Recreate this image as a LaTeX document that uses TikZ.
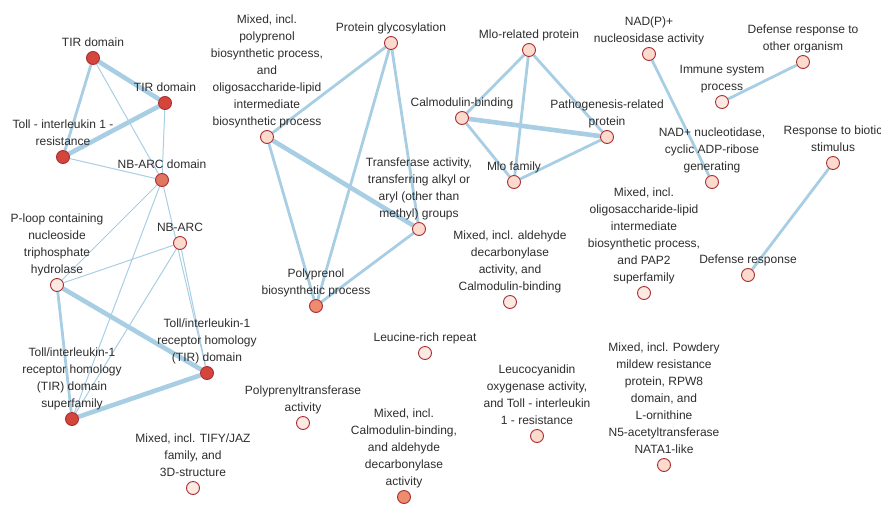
\documentclass[tikz,border=0pt]{standalone}
\usepackage{fontspec}
\setmainfont{Liberation Sans}
\usetikzlibrary{backgrounds}

\definecolor{edgeblue}{RGB}{168,206,228}
\definecolor{termdark}{RGB}{212,70,60}
\definecolor{termmid}{RGB}{224,118,96}
\definecolor{termorange}{RGB}{238,140,110}
\definecolor{termlight}{RGB}{252,218,205}
\definecolor{termpale}{RGB}{252,233,225}
\definecolor{termborder}{RGB}{170,45,50}
\definecolor{textgray}{RGB}{45,45,45}

\tikzset{
  term/.style={circle, minimum size=13pt, inner sep=0pt, line width=0.9pt, draw=termborder},
  dark/.style={term, fill=termdark},
  mid/.style={term, fill=termmid},
  orange/.style={term, fill=termorange},
  light/.style={term, fill=termlight},
  pale/.style={term, fill=termpale},
  lbl/.style={font=\fontsize{12}{17}\selectfont, text=textgray, align=center, inner sep=0pt, label distance=-0.5pt},
  edge/.style={draw=edgeblue},
  weak/.style={edge, line width=1pt},
  medium/.style={edge, line width=2.8pt},
  strong/.style={edge, line width=4.6pt}
}

\begin{document}
\begin{tikzpicture}[x=1pt, y=-1pt]
  \useasboundingbox (0,0) rectangle (881,504);

  % Left cluster: TIR / NB-ARC terms
  \node[dark, label={[lbl]above:{TIR domain\strut}}] (tirA) at (93,58) {};
  \node[dark, label={[lbl]above:{TIR domain\strut}}] (tirB) at (165,103) {};
  \node[dark, label={[lbl]above:{Toll - interleukin 1 -\\resistance\strut}}] (toll) at (63,157) {};
  \node[mid, label={[lbl]above:{NB-ARC domain\strut}}] (nbarcdom) at (162,180) {};
  \node[light, label={[lbl]above:{NB-ARC\strut}}] (nbarc) at (180,243) {};
  \node[pale, label={[lbl]above:{P-loop containing\\nucleoside\\triphosphate\\hydrolase\strut}}] (ploop) at (57,285) {};
  \node[dark, label={[lbl]above:{Toll/interleukin-1\\receptor homology\\(TIR) domain\strut}}] (tirdom) at (207,373) {};
  \node[dark, label={[lbl]above:{Toll/interleukin-1\\receptor homology\\(TIR) domain\\superfamily\strut}}] (tirsup) at (72,419) {};
  \node[pale, label={[lbl]above:{Mixed, incl. TIFY/JAZ\\family, and\\3D-structure\strut}}] (tify) at (193,488) {};

  % Middle cluster: polyprenol / glycosylation terms
  \node[light, label={[lbl]above:{Protein glycosylation\strut}}] (protgly) at (391,43) {};
  \node[light, label={[lbl]above:{Mixed, incl.\\polyprenol\\biosynthetic process,\\and\\oligosaccharide-lipid\\intermediate\\biosynthetic process\strut}}] (mixpoly) at (267,137) {};
  \node[light, label={[lbl]above:{Transferase activity,\\transferring alkyl or\\aryl (other than\\methyl) groups\strut}}] (transf) at (419,229) {};
  \node[orange, label={[lbl]above:{Polyprenol\\biosynthetic process\strut}}] (polyproc) at (316,306) {};

  % Mlo cluster
  \node[light, label={[lbl]above:{Mlo-related protein\strut}}] (mlorel) at (529,50) {};
  \node[light, label={[lbl]above:{Calmodulin-binding\strut}}] (calm) at (462,118) {};
  \node[light, label={[lbl]above:{Pathogenesis-related\\protein\strut}}] (patho) at (607,137) {};
  \node[light, label={[lbl]above:{Mlo family\strut}}] (mlofam) at (514,182) {};

  % Right: pairs
  \node[light, label={[lbl]above:{NAD(P)+\\nucleosidase activity\strut}}] (nadp) at (649,54) {};
  \node[light, label={[lbl]above:{Defense response to\\other organism\strut}}] (defother) at (803,62) {};
  \node[pale, label={[lbl]above:{Immune system\\process\strut}}] (immune) at (722,102) {};
  \node[light, label={[lbl]above:{NAD+ nucleotidase,\\cyclic ADP-ribose\\generating\strut}}] (nadplus) at (712,182) {};
  \node[light, label={[lbl]above:{Response to biotic\\stimulus\strut}}] (respbio) at (833,163) {};
  \node[light, label={[lbl]above:{Defense response\strut}}] (defresp) at (748,275) {};

  % Singletons
  \node[pale, label={[lbl]above:{Mixed, incl.\\oligosaccharide-lipid\\intermediate\\biosynthetic process,\\and PAP2\\superfamily\strut}}] (mixoligo) at (644,293) {};
  \node[pale, label={[lbl]above:{Mixed, incl. aldehyde\\decarbonylase\\activity, and\\Calmodulin-binding\strut}}] (mixald) at (510,302) {};
  \node[pale, label={[lbl]above:{Leucine-rich repeat\strut}}] (leucine) at (425,353) {};
  \node[pale, label={[lbl]above:{Polyprenyltransferase\\activity\strut}}] (polyprenyl) at (303,423) {};
  \node[orange, label={[lbl]above:{Mixed, incl.\\Calmodulin-binding,\\and aldehyde\\decarbonylase\\activity\strut}}] (mixcalm) at (404,497) {};
  \node[light, label={[lbl]above:{Leucocyanidin\\oxygenase activity,\\and Toll - interleukin\\1 - resistance\strut}}] (leuco) at (537,436) {};
  \node[light, label={[lbl]above:{Mixed, incl. Powdery\\mildew resistance\\protein, RPW8\\domain, and\\L-ornithine\\N5-acetyltransferase\\NATA1-like\strut}}] (mixpowd) at (664,465) {};

  \begin{scope}[on background layer]
    % left cluster edges
    \draw[strong] (tirA) -- (tirB);
    \draw[medium] (tirA) -- (toll);
    \draw[weak] (tirA) -- (nbarcdom);
    \draw[strong] (tirB) -- (toll);
    \draw[weak] (tirB) -- (nbarcdom);
    \draw[weak] (toll) -- (nbarcdom);
    \draw[weak] (nbarcdom) -- (ploop);
    \draw[weak] (nbarcdom) -- (tirsup);
    \draw[weak] (nbarcdom) -- (tirdom);
    \draw[weak] (nbarc) -- (ploop);
    \draw[weak] (nbarc) -- (tirsup);
    \draw[weak] (nbarc) -- (tirdom);
    \draw[strong] (ploop) -- (tirdom);
    \draw[medium] (ploop) -- (tirsup);
    \draw[strong] (tirdom) -- (tirsup);
    % middle cluster edges
    \draw[medium] (protgly) -- (mixpoly);
    \draw[medium] (protgly) -- (polyproc);
    \draw[medium] (protgly) -- (transf);
    \draw[strong] (mixpoly) -- (transf);
    \draw[medium] (mixpoly) -- (polyproc);
    \draw[medium] (transf) -- (polyproc);
    % Mlo cluster edges
    \draw[medium] (mlorel) -- (calm);
    \draw[medium] (mlorel) -- (patho);
    \draw[medium] (mlorel) -- (mlofam);
    \draw[strong] (calm) -- (patho);
    \draw[medium] (calm) -- (mlofam);
    \draw[medium] (mlofam) -- (patho);
    % pairs
    \draw[medium] (nadp) -- (nadplus);
    \draw[medium] (immune) -- (defother);
    \draw[medium] (respbio) -- (defresp);
  \end{scope}
\end{tikzpicture}
\end{document}
